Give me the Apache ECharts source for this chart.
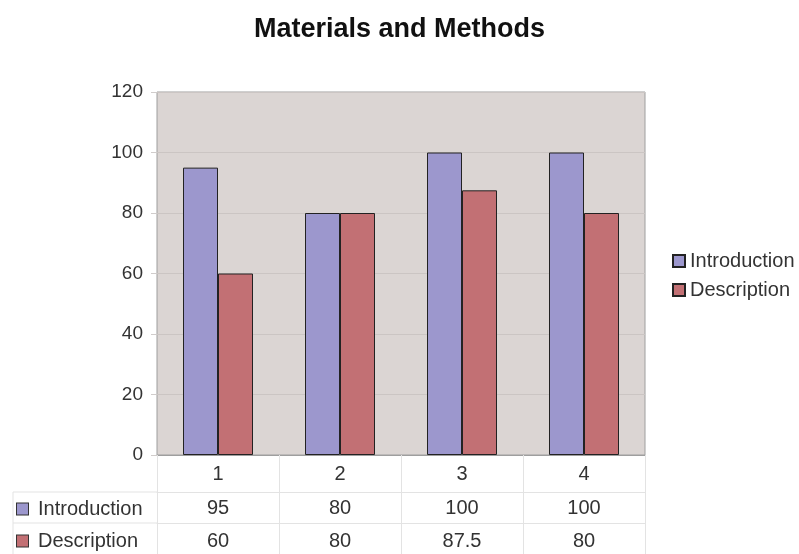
<!DOCTYPE html>
<html>
<head>
<meta charset="utf-8">
<script src="https://cdn.jsdelivr.net/npm/echarts@6/dist/echarts.min.js"></script>
<style>
  html, body { margin: 0; padding: 0; background: #fff; }
  #chart { width: 799px; height: 554px; }
</style>
</head>
<body>
<div id="chart"></div>
<script>
var categories = ['1', '2', '3', '4'];
var introduction = [95, 80, 100, 100];
var description = [60, 80, 87.5, 80];
var yTicks = [0, 20, 40, 60, 80, 100, 120];

var FONT = "'Liberation Sans', Arial, sans-serif";
var introColor = '#9c97cd';
var descColor = '#c27074';
var tableLine = '#e3e3e3';

var chart = echarts.init(document.getElementById('chart'));

function rowName(label, color, padTop) {
  return {
    name: '{m|}{g|}' + label,
    nameLocation: 'start',
    nameGap: 140,
    nameTextStyle: {
      fontFamily: FONT, fontSize: 20, color: '#333',
      align: 'left', verticalAlign: 'top', padding: [padTop, 0, 0, 0],
      rich: {
        m: { width: 11, height: 11, backgroundColor: color, borderColor: '#333', borderWidth: 1 },
        g: { width: 10 }
      }
    }
  };
}

var option = {
  backgroundColor: '#fff',
  animation: false,
  title: {
    text: 'Materials and Methods',
    left: 'center',
    top: 11,
    textStyle: { fontFamily: FONT, fontSize: 27, fontWeight: 'bold', color: '#111' }
  },
  legend: {
    orient: 'vertical',
    left: 667,
    top: 246,
    itemWidth: 12,
    itemHeight: 12,
    itemGap: 9,
    icon: 'rect',
    textStyle: { fontFamily: FONT, fontSize: 20, color: '#333', padding: [0, 0, 0, 0] },
    data: ['Introduction', 'Description']
  },
  grid: {
    left: 157,
    right: 154,
    top: 92,
    bottom: 99,
    show: true,
    backgroundColor: '#dbd5d3',
    borderColor: '#9e9e9e',
    borderWidth: 1
  },
  xAxis: [
    {
      type: 'category',
      data: categories,
      axisLine: { lineStyle: { color: '#9e9e9e' } },
      axisTick: { show: true, inside: false, length: 99, lineStyle: { color: tableLine } },
      axisLabel: { margin: 9, fontFamily: FONT, fontSize: 20, color: '#333' }
    },
    Object.assign({
      type: 'category',
      position: 'bottom',
      offset: 37,
      data: introduction.map(String),
      axisLine: { lineStyle: { color: tableLine } },
      axisTick: { show: false },
      axisLabel: { margin: 6, fontFamily: FONT, fontSize: 20, color: '#333' }
    }, rowName('Introduction', introColor, 7)),
    Object.assign({
      type: 'category',
      position: 'bottom',
      offset: 68,
      data: description.map(String),
      axisLine: { lineStyle: { color: tableLine } },
      axisTick: { show: false },
      axisLabel: { margin: 8, fontFamily: FONT, fontSize: 20, color: '#333' }
    }, rowName('Description', descColor, 8))
  ],
  yAxis: {
    type: 'value',
    min: yTicks[0],
    max: yTicks[yTicks.length - 1],
    interval: 20,
    axisLine: { show: false },
    axisTick: { show: true, length: 6, lineStyle: { color: '#d0cccb' } },
    splitLine: { lineStyle: { color: '#cbc5c3' } },
    axisLabel: { margin: 14, fontFamily: FONT, fontSize: 19, color: '#333' }
  },
  series: [
    {
      name: 'Introduction',
      type: 'bar',
      data: introduction,
      barWidth: 35,
      barGap: '0%',
      itemStyle: { color: introColor, borderColor: '#222', borderWidth: 1 }
    },
    {
      name: 'Description',
      type: 'bar',
      data: description,
      barWidth: 35,
      barGap: '0%',
      itemStyle: { color: descColor, borderColor: '#222', borderWidth: 1 }
    }
  ],
  graphic: [
    // table row lines on the left header column
    { type: 'line', shape: { x1: 13, y1: 492, x2: 157, y2: 492 }, style: { stroke: tableLine, lineWidth: 1 } },
    { type: 'line', shape: { x1: 13, y1: 523, x2: 157, y2: 523 }, style: { stroke: tableLine, lineWidth: 1 } },
    { type: 'line', shape: { x1: 13, y1: 492, x2: 13, y2: 554 }, style: { stroke: tableLine, lineWidth: 1 } }
  ]
};

chart.setOption(option);
</script>
</body>
</html>
